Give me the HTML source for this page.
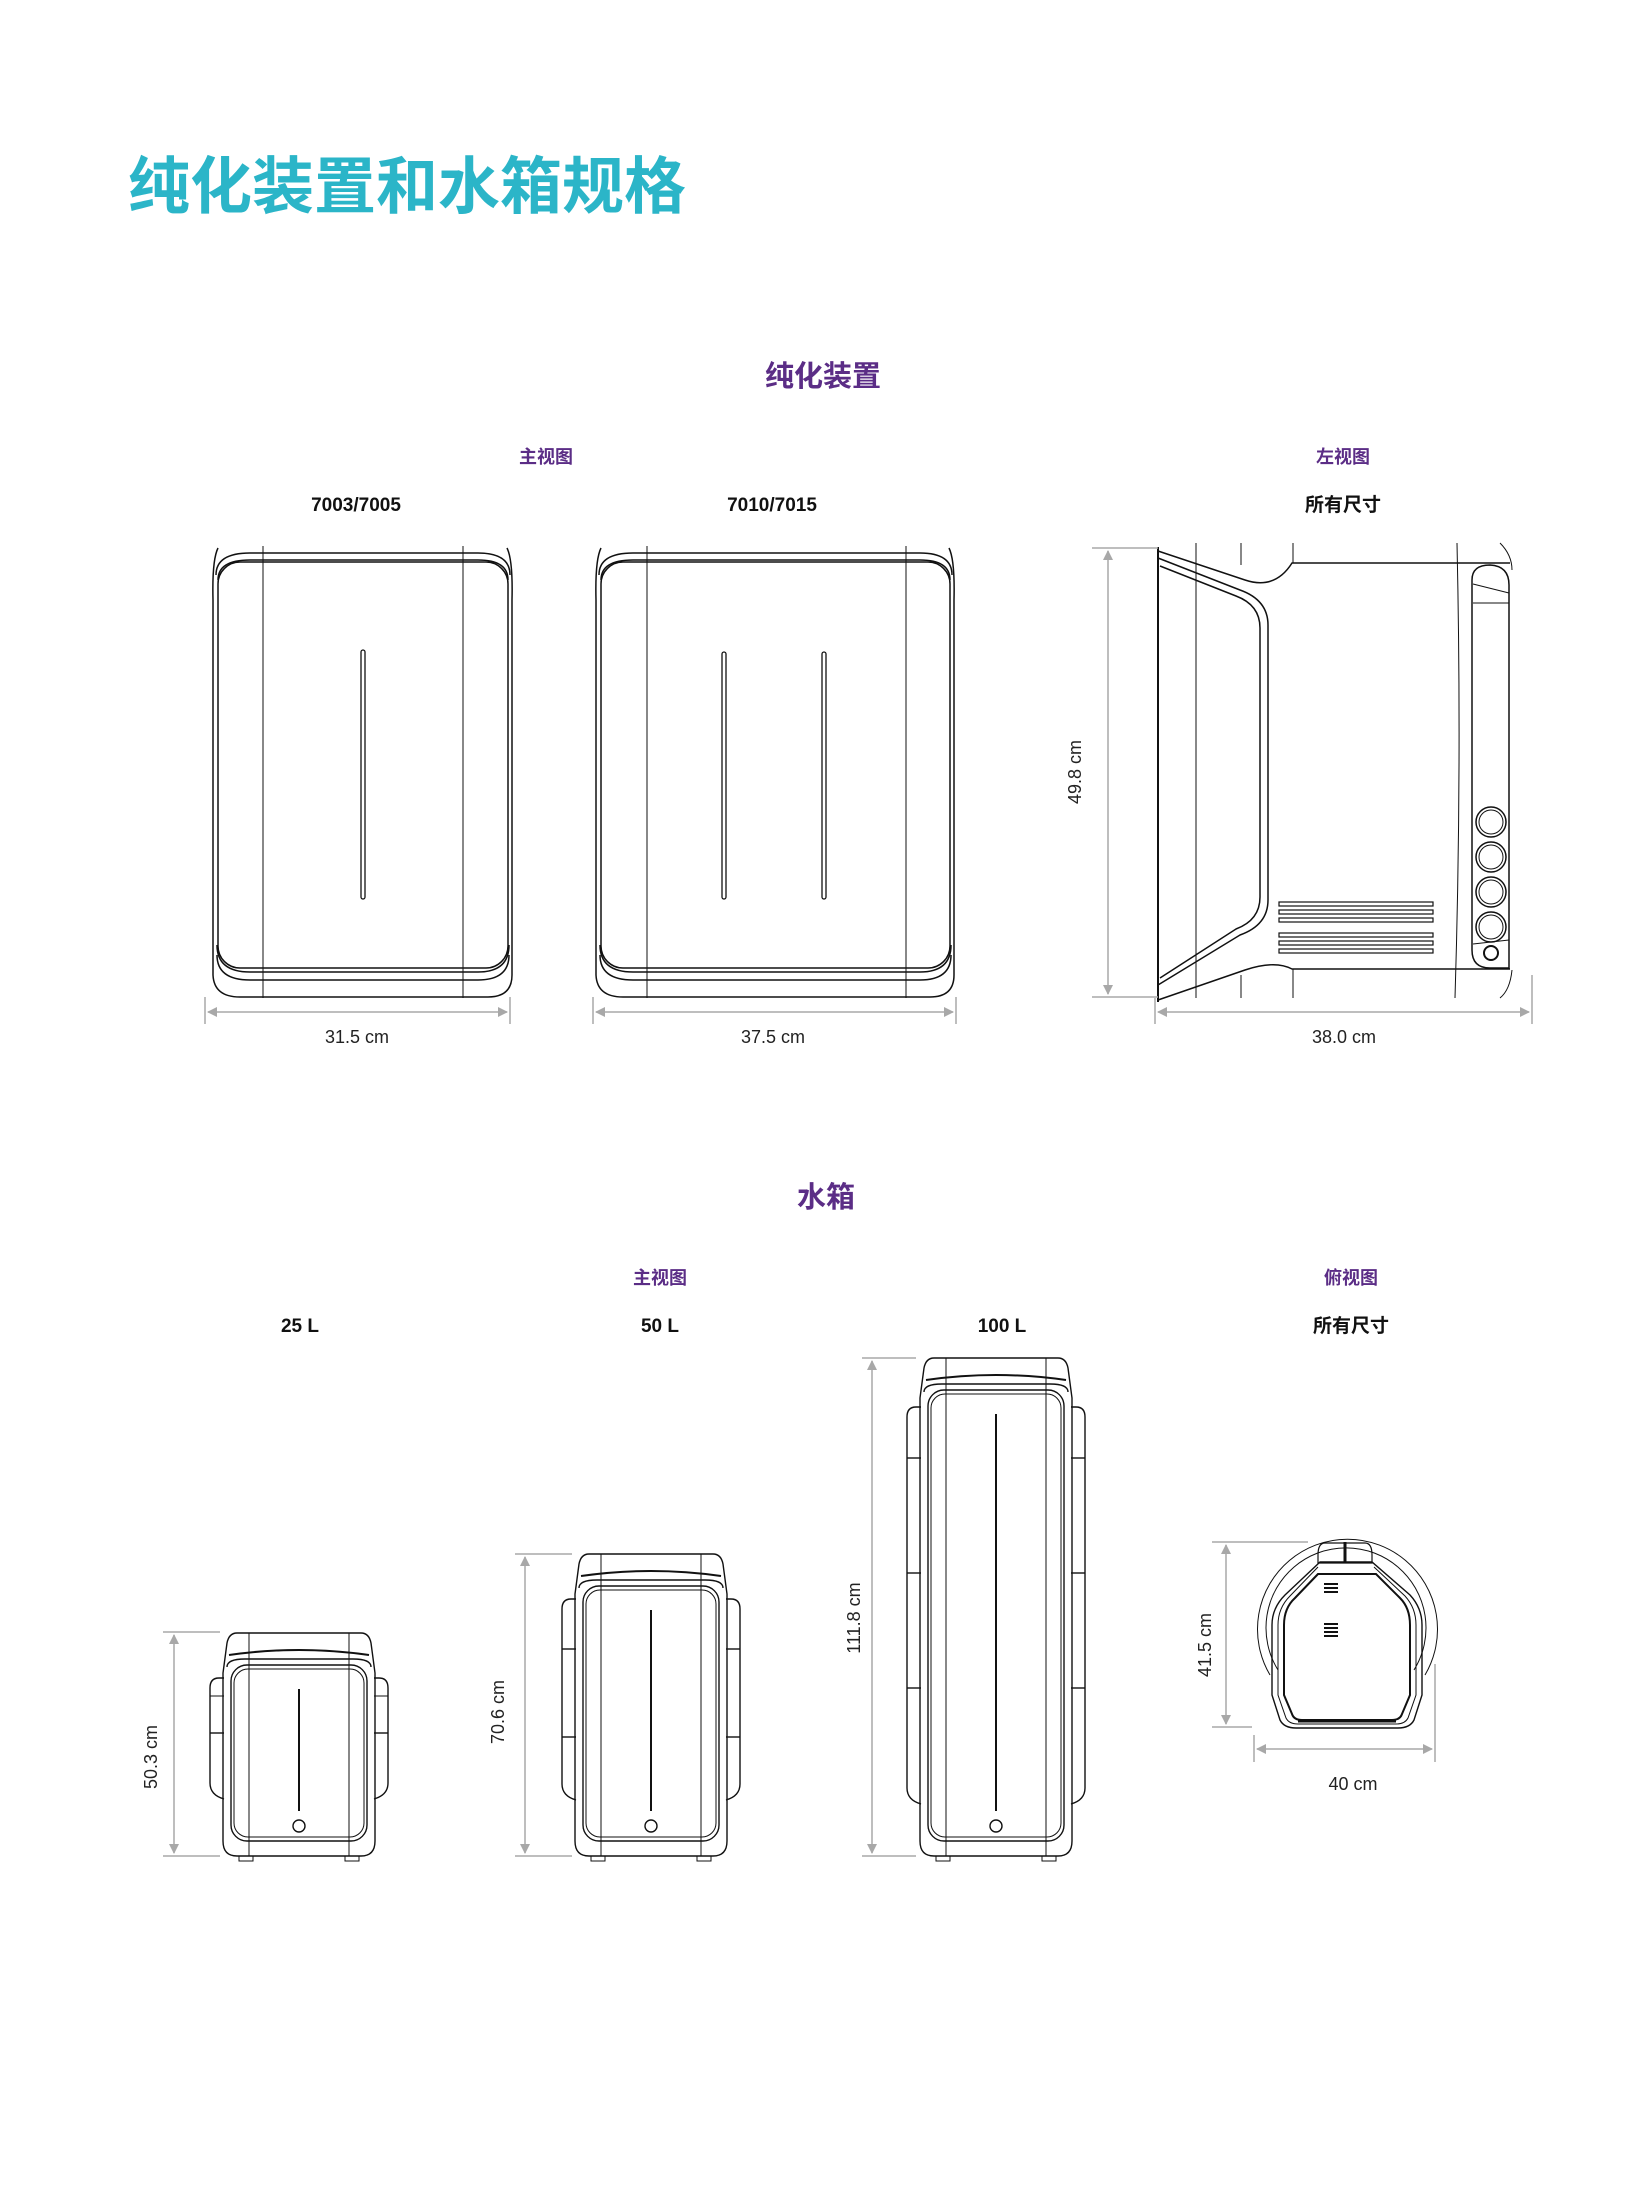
<!DOCTYPE html>
<html><head><meta charset="utf-8"><style>
html,body{margin:0;padding:0;background:#fff;}
body{width:1650px;height:2200px;position:relative;overflow:hidden;}
svg{position:absolute;left:0;top:0;}
text{font-family:"Liberation Sans","Noto Sans CJK SC",sans-serif;}
</style></head><body>
<svg width="1650" height="2200" viewBox="0 0 1650 2200" xmlns="http://www.w3.org/2000/svg">
<defs>
<marker id="ar" viewBox="0 0 10 10" refX="9" refY="5" markerWidth="14" markerHeight="10" orient="auto-start-reverse" markerUnits="userSpaceOnUse"><path d="M0,0 L10,5 L0,10 Z" fill="#a8a8a8"/></marker>
</defs>
<!-- Titles -->
<text x="128" y="208" font-size="62" font-weight="bold" fill="#2bb5c8" style="font-family:'Noto Sans CJK SC',sans-serif">纯化装置和水箱规格</text>
<text x="823" y="386" font-size="29" font-weight="bold" fill="#5b2d86" text-anchor="middle" style="font-family:'Noto Sans CJK SC',sans-serif">纯化装置</text>
<text x="546" y="463" font-size="18" font-weight="bold" fill="#5b2d86" text-anchor="middle" style="font-family:'Noto Sans CJK SC',sans-serif">主视图</text>
<text x="1343" y="463" font-size="18" font-weight="bold" fill="#5b2d86" text-anchor="middle" style="font-family:'Noto Sans CJK SC',sans-serif">左视图</text>
<text x="356" y="511" font-size="19" font-weight="bold" fill="#111" text-anchor="middle">7003/7005</text>
<text x="772" y="511" font-size="19" font-weight="bold" fill="#111" text-anchor="middle">7010/7015</text>
<text x="1343" y="511" font-size="19" font-weight="bold" fill="#111" text-anchor="middle" style="font-family:'Noto Sans CJK SC',sans-serif">所有尺寸</text>

<g fill="none" stroke="#111" stroke-width="1.5">
<!-- Unit 1 -->
<path d="M218,548 Q212,560 213,600 V975 Q214,997 240,997 H488 Q512,997 512,975 V600 Q513,560 507,548"/>
<path d="M216,575 Q216,553 250,553 H478 Q510,553 510,575"/>
<path d="M218,580 Q218,560 250,560 H478 Q508,560 508,580"/>
<path d="M217,955 Q217,980 250,980 H478 Q509,980 509,955"/>
<path d="M217,945 Q217,972 250,972 H478 Q509,972 509,945"/>
<rect x="218" y="562" width="290" height="406" rx="22"/>
<line x1="263" y1="546" x2="263" y2="998" stroke-width="1"/>
<line x1="463" y1="546" x2="463" y2="998" stroke-width="1"/>
<rect x="361" y="650" width="4" height="249" rx="2" stroke-width="1.3"/>
<!-- Unit 2 -->
<path d="M601,548 Q595,560 596,600 V975 Q597,997 623,997 H930 Q954,997 954,975 V600 Q955,560 949,548"/>
<path d="M599,575 Q599,553 633,553 H920 Q952,553 952,575"/>
<path d="M601,580 Q601,560 633,560 H920 Q950,560 950,580"/>
<path d="M600,955 Q600,980 633,980 H920 Q951,980 951,955"/>
<path d="M600,945 Q600,972 633,972 H920 Q951,972 951,945"/>
<rect x="601" y="562" width="349" height="406" rx="22"/>
<line x1="647" y1="546" x2="647" y2="998" stroke-width="1"/>
<line x1="906" y1="546" x2="906" y2="998" stroke-width="1"/>
<rect x="722" y="652" width="4" height="247" rx="2" stroke-width="1.3"/>
<rect x="822" y="652" width="4" height="247" rx="2" stroke-width="1.3"/>
<!-- Side view -->
<line x1="1158" y1="547" x2="1158" y2="1002" stroke-width="2"/>
<path d="M1158,551 L1245,580 Q1275,590 1292,563 H1510"/>
<path d="M1158,558 L1240,590 Q1268,600 1268,625 V900 Q1268,925 1240,935 L1158,985"/>
<path d="M1160,566 L1236,596 Q1260,605 1260,628 V897 Q1260,920 1236,929 L1160,978"/>
<path d="M1158,1000 L1245,970 Q1275,960 1292,969 H1510"/>
<path d="M1472,580 Q1472,565 1490,565 Q1509,566 1509,585 V968 H1490 Q1472,968 1472,950 Z"/>
<line x1="1473" y1="584" x2="1509" y2="593" stroke-width="1"/>
<line x1="1473" y1="603" x2="1509" y2="603" stroke-width="1"/>
<line x1="1473" y1="944" x2="1509" y2="940" stroke-width="1"/>
<circle cx="1491" cy="822" r="15"/><circle cx="1491" cy="822" r="12" stroke-width="1"/>
<circle cx="1491" cy="857" r="15"/><circle cx="1491" cy="857" r="12" stroke-width="1"/>
<circle cx="1491" cy="892" r="15"/><circle cx="1491" cy="892" r="12" stroke-width="1"/>
<circle cx="1491" cy="927" r="15"/><circle cx="1491" cy="927" r="12" stroke-width="1"/>
<circle cx="1491" cy="953" r="7" stroke-width="2"/>
<g stroke-width="1.2">
<rect x="1279" y="902" width="154" height="4"/><rect x="1279" y="910" width="154" height="4"/><rect x="1279" y="918" width="154" height="4"/>
<rect x="1279" y="933" width="154" height="4"/><rect x="1279" y="941" width="154" height="4"/><rect x="1279" y="949" width="154" height="4"/>
</g>
<g stroke-width="1">
<line x1="1196" y1="543" x2="1196" y2="998"/>
<line x1="1241" y1="543" x2="1241" y2="565"/><line x1="1241" y1="975" x2="1241" y2="998"/>
<line x1="1293" y1="543" x2="1293" y2="563"/><line x1="1293" y1="969" x2="1293" y2="998"/>
<path d="M1457,543 Q1462,770 1455,998"/>
<path d="M1500,543 Q1512,555 1512,570"/><path d="M1512,970 Q1510,990 1500,998"/>
</g>
</g>

<!-- dims top -->
<g stroke="#a8a8a8" stroke-width="1.5" fill="none">
<line x1="205" y1="997" x2="205" y2="1024"/><line x1="510" y1="997" x2="510" y2="1024"/>
<line x1="208" y1="1012" x2="507" y2="1012" marker-start="url(#ar)" marker-end="url(#ar)"/>
<line x1="593" y1="997" x2="593" y2="1024"/><line x1="956" y1="997" x2="956" y2="1024"/>
<line x1="596" y1="1012" x2="953" y2="1012" marker-start="url(#ar)" marker-end="url(#ar)"/>
<line x1="1155" y1="998" x2="1155" y2="1024"/><line x1="1532" y1="975" x2="1532" y2="1024"/>
<line x1="1158" y1="1012" x2="1529" y2="1012" marker-start="url(#ar)" marker-end="url(#ar)"/>
<line x1="1092" y1="548" x2="1158" y2="548"/><line x1="1092" y1="997" x2="1158" y2="997"/>
<line x1="1108" y1="551" x2="1108" y2="994" marker-start="url(#ar)" marker-end="url(#ar)"/>
</g>
<g font-size="18" fill="#222" text-anchor="middle">
<text x="357" y="1043">31.5 cm</text>
<text x="773" y="1043">37.5 cm</text>
<text x="1344" y="1043">38.0 cm</text>
<text transform="translate(1081,772) rotate(-90)">49.8 cm</text>
</g>

<!-- Water tanks -->
<text x="826" y="1207" font-size="29" font-weight="bold" fill="#5b2d86" text-anchor="middle" style="font-family:'Noto Sans CJK SC',sans-serif">水箱</text>
<text x="660" y="1284" font-size="18" font-weight="bold" fill="#5b2d86" text-anchor="middle" style="font-family:'Noto Sans CJK SC',sans-serif">主视图</text>
<text x="1351" y="1284" font-size="18" font-weight="bold" fill="#5b2d86" text-anchor="middle" style="font-family:'Noto Sans CJK SC',sans-serif">俯视图</text>
<text x="300" y="1332" font-size="19" font-weight="bold" fill="#111" text-anchor="middle">25 L</text>
<text x="660" y="1332" font-size="19" font-weight="bold" fill="#111" text-anchor="middle">50 L</text>
<text x="1002" y="1332" font-size="19" font-weight="bold" fill="#111" text-anchor="middle">100 L</text>
<text x="1351" y="1332" font-size="19" font-weight="bold" fill="#111" text-anchor="middle" style="font-family:'Noto Sans CJK SC',sans-serif">所有尺寸</text>

<!-- 25L H=223 -->
<g transform="translate(225,1633)" fill="none" stroke="#111" stroke-width="1.4">
<path d="M12,0 H136 Q144,0 146,10 L150,40 V208 Q150,223 136,223 H12 Q-2,223 -2,208 V40 L2,10 Q4,0 12,0 Z"/>
<path d="M4,22 Q74,12 144,22" stroke-width="2"/>
<path d="M2,34 Q2,26 20,26 H128 Q146,26 146,34"/>
<rect x="6" y="32" width="136" height="176" rx="16"/>
<rect x="9" y="36" width="130" height="168" rx="14" stroke-width="1"/>
<line x1="24" y1="0" x2="24" y2="223" stroke-width="1"/>
<line x1="124" y1="0" x2="124" y2="223" stroke-width="1"/>
<path d="M-1,45 H-6 Q-15,45 -15,55 V150 Q-15,162 -1,166" />
<path d="M149,45 H154 Q163,45 163,55 V150 Q163,162 149,166"/>
<line x1="-15" y1="100" x2="-1" y2="100"/><line x1="149" y1="100" x2="163" y2="100"/>
<line x1="-15" y1="63" x2="-1" y2="63" stroke-width="1"/><line x1="149" y1="63" x2="163" y2="63" stroke-width="1"/>
<line x1="74" y1="56" x2="74" y2="178" stroke-width="2"/>
<circle cx="74" cy="193" r="6"/>
<rect x="14" y="223" width="14" height="5" stroke-width="1"/><rect x="120" y="223" width="14" height="5" stroke-width="1"/>
</g>
<!-- 50L H=302 -->
<g transform="translate(577,1554)" fill="none" stroke="#111" stroke-width="1.4">
<path d="M12,0 H136 Q144,0 146,10 L150,40 V287 Q150,302 136,302 H12 Q-2,302 -2,287 V40 L2,10 Q4,0 12,0 Z"/>
<path d="M4,22 Q74,12 144,22" stroke-width="2"/>
<path d="M2,34 Q2,26 20,26 H128 Q146,26 146,34"/>
<rect x="6" y="32" width="136" height="255" rx="16"/>
<rect x="9" y="36" width="130" height="247" rx="14" stroke-width="1"/>
<line x1="24" y1="0" x2="24" y2="302" stroke-width="1"/>
<line x1="124" y1="0" x2="124" y2="302" stroke-width="1"/>
<path d="M-1,45 H-6 Q-15,45 -15,55 V230 Q-15,242 -1,246"/>
<path d="M149,45 H154 Q163,45 163,55 V230 Q163,242 149,246"/>
<line x1="-15" y1="95" x2="-1" y2="95"/><line x1="149" y1="95" x2="163" y2="95"/>
<line x1="-15" y1="183" x2="-1" y2="183"/><line x1="149" y1="183" x2="163" y2="183"/>
<line x1="74" y1="56" x2="74" y2="257" stroke-width="2"/>
<circle cx="74" cy="272" r="6"/>
<rect x="14" y="302" width="14" height="5" stroke-width="1"/><rect x="120" y="302" width="14" height="5" stroke-width="1"/>
</g>
<!-- 100L H=498 -->
<g transform="translate(922,1358)" fill="none" stroke="#111" stroke-width="1.4">
<path d="M12,0 H136 Q144,0 146,10 L150,40 V483 Q150,498 136,498 H12 Q-2,498 -2,483 V40 L2,10 Q4,0 12,0 Z"/>
<path d="M4,22 Q74,12 144,22" stroke-width="2"/>
<path d="M2,34 Q2,26 20,26 H128 Q146,26 146,34"/>
<rect x="6" y="32" width="136" height="451" rx="16"/>
<rect x="9" y="36" width="130" height="443" rx="14" stroke-width="1"/>
<line x1="24" y1="0" x2="24" y2="498" stroke-width="1"/>
<line x1="124" y1="0" x2="124" y2="498" stroke-width="1"/>
<path d="M-1,49 H-6 Q-15,49 -15,59 V430 Q-15,442 -1,446"/>
<path d="M149,49 H154 Q163,49 163,59 V430 Q163,442 149,446"/>
<line x1="-15" y1="100" x2="-1" y2="100"/><line x1="149" y1="100" x2="163" y2="100"/>
<line x1="-15" y1="215" x2="-1" y2="215"/><line x1="149" y1="215" x2="163" y2="215"/>
<line x1="-15" y1="330" x2="-1" y2="330"/><line x1="149" y1="330" x2="163" y2="330"/>
<line x1="74" y1="56" x2="74" y2="453" stroke-width="2"/>
<circle cx="74" cy="468" r="6"/>
<rect x="14" y="498" width="14" height="5" stroke-width="1"/><rect x="120" y="498" width="14" height="5" stroke-width="1"/>
</g>
<!-- Top view -->
<g fill="none" stroke="#111" stroke-width="1.4">
<path d="M1270,1675 A90,90 0 1 1 1425,1675" stroke-width="1"/>
<path d="M1278,1670 A80,80 0 1 1 1414,1670" stroke-width="1"/>
<path d="M1325,1543 H1365 Q1372,1543 1372,1555 V1563 H1318 V1555 Q1318,1543 1325,1543 Z" stroke-width="1.2"/>
<line x1="1345" y1="1542" x2="1345" y2="1563" stroke-width="3"/>
<path d="M1320,1562 L1285,1595 Q1272,1608 1272,1625 V1695 L1280,1720 Q1284,1728 1296,1728 H1398 Q1410,1728 1414,1720 L1422,1695 V1625 Q1422,1608 1410,1595 L1372,1562 Z"/>
<path d="M1318,1567 L1290,1596 Q1278,1608 1278,1625 V1695 L1286,1718 Q1289,1724 1298,1724 H1396 Q1405,1724 1408,1718 L1416,1695 V1625 Q1416,1608 1405,1596 L1374,1567" stroke-width="1"/>
<path d="M1318,1574 L1295,1598 Q1284,1608 1284,1625 V1695 L1292,1714 Q1294,1720 1302,1720 H1392 Q1400,1720 1402,1714 L1410,1695 V1625 Q1410,1608 1400,1598 L1376,1574 Z" stroke-width="2"/>
<line x1="1298" y1="1721" x2="1396" y2="1721" stroke-width="3"/>
<g stroke-width="2"><line x1="1324" y1="1584" x2="1338" y2="1584"/><line x1="1324" y1="1588" x2="1338" y2="1588"/><line x1="1324" y1="1592" x2="1338" y2="1592"/>
<line x1="1324" y1="1624" x2="1338" y2="1624"/><line x1="1324" y1="1628" x2="1338" y2="1628"/><line x1="1324" y1="1632" x2="1338" y2="1632"/><line x1="1324" y1="1636" x2="1338" y2="1636"/></g>
</g>

<!-- tank dims -->
<g stroke="#a8a8a8" stroke-width="1.5" fill="none">
<line x1="163" y1="1632" x2="220" y2="1632"/><line x1="163" y1="1856" x2="220" y2="1856"/>
<line x1="174" y1="1635" x2="174" y2="1853" marker-start="url(#ar)" marker-end="url(#ar)"/>
<line x1="515" y1="1554" x2="572" y2="1554"/><line x1="515" y1="1856" x2="572" y2="1856"/>
<line x1="525" y1="1557" x2="525" y2="1853" marker-start="url(#ar)" marker-end="url(#ar)"/>
<line x1="862" y1="1358" x2="916" y2="1358"/><line x1="862" y1="1856" x2="916" y2="1856"/>
<line x1="872" y1="1361" x2="872" y2="1853" marker-start="url(#ar)" marker-end="url(#ar)"/>
<line x1="1212" y1="1542" x2="1308" y2="1542"/><line x1="1212" y1="1727" x2="1252" y2="1727"/>
<line x1="1226" y1="1545" x2="1226" y2="1724" marker-start="url(#ar)" marker-end="url(#ar)"/>
<line x1="1254" y1="1735" x2="1254" y2="1762"/><line x1="1435" y1="1664" x2="1435" y2="1762"/>
<line x1="1257" y1="1749" x2="1432" y2="1749" marker-start="url(#ar)" marker-end="url(#ar)"/>
</g>
<g font-size="18" fill="#222" text-anchor="middle">
<text transform="translate(157,1757) rotate(-90)">50.3 cm</text>
<text transform="translate(504,1712) rotate(-90)">70.6 cm</text>
<text transform="translate(860,1618) rotate(-90)">111.8 cm</text>
<text transform="translate(1211,1645) rotate(-90)">41.5 cm</text>
<text x="1353" y="1790">40 cm</text>
</g>
</svg>
</body></html>
